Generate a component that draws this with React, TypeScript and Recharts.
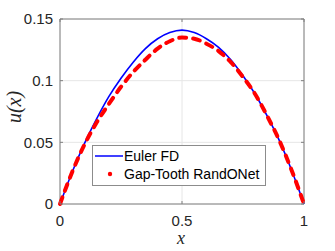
import React from 'react';
import {
  LineChart, Line, XAxis, YAxis, CartesianGrid, ReferenceArea
} from 'recharts';

// grid points along x and the two solutions
const xs = [0, 0.05, 0.1, 0.15, 0.2, 0.25, 0.3, 0.35, 0.4, 0.45, 0.5, 0.55, 0.6, 0.65, 0.7, 0.75, 0.8, 0.85, 0.9, 0.95, 1];
const eulerFD = [0, 0.026, 0.049, 0.069, 0.087, 0.102, 0.115, 0.126, 0.134, 0.139, 0.141, 0.139, 0.134, 0.127, 0.117, 0.104, 0.089, 0.071, 0.051, 0.027, 0];
const gapTooth = [0, 0.026, 0.048, 0.066, 0.081, 0.095, 0.107, 0.117, 0.126, 0.132, 0.135, 0.134, 0.13, 0.124, 0.115, 0.103, 0.089, 0.071, 0.051, 0.027, 0];

const xTicks = [0, 0.5, 1];
const yTicks = [0, 0.05, 0.1, 0.15];

const data = xs.map((x, i) => ({ x, euler: eulerFD[i], gap: gapTooth[i] }));

const W = 335;
const H = 251;
const PL = 60;   // plot left
const PR = 304;  // plot right
const PT = 19;   // plot top
const PB = 204;  // plot bottom

const TEXT = '#262626';
const AXIS = '#808080';
const FONT = '"Liberation Sans", Arial, Helvetica, sans-serif';
const SERIF = '"Liberation Serif", "Times New Roman", serif';

const YTick = (props: any) => {
  const { y, payload } = props;
  return (
    <g>
      <line x1={PL} x2={PL + 3} y1={y} y2={y} stroke={AXIS} />
      <line x1={PR - 3} x2={PR} y1={y} y2={y} stroke={AXIS} />
      <text x={53} y={y + 5.3} textAnchor="end" fontSize={15} fontFamily={FONT} fill={TEXT}>
        {String(payload.value)}
      </text>
    </g>
  );
};

const XTick = (props: any) => {
  const { x, payload } = props;
  return (
    <g>
      <line x1={x} x2={x} y1={PB} y2={PB - 3} stroke={AXIS} />
      <line x1={x} x2={x} y1={PT} y2={PT + 3} stroke={AXIS} />
      <text x={x} y={226} textAnchor="middle" fontSize={15} fontFamily={FONT} fill={TEXT}>
        {String(payload.value)}
      </text>
    </g>
  );
};

const XLabel = () => (
  <text x={181} y={244} textAnchor="middle" fontStyle="italic" fontFamily={SERIF} fontSize={18} fill={TEXT}>
    x
  </text>
);

const YLabel = () => (
  <text
    x={0}
    y={0}
    transform="translate(21, 107) rotate(-90)"
    textAnchor="middle"
    fontStyle="italic"
    fontFamily={SERIF}
    fontSize={20}
    fill={TEXT}
  >
    u(x)
  </text>
);

const LegendBox = () => (
  <div
    style={{
      position: 'absolute',
      left: 92,
      top: 145,
      width: 172,
      height: 39,
      border: '1px solid #8c8c8c',
      background: '#fff',
    }}
  >
    <svg width={172} height={39} style={{ position: 'absolute', left: 0, top: 0 }}>
      <line x1={2} x2={30} y1={10} y2={10} stroke="#0000ff" strokeWidth={1.5} />
      <circle cx={17} cy={28} r={2.2} fill="#ff0000" />
      <text x={31} y={15} fontSize={14} fontFamily={FONT}>Euler FD</text>
      <text x={31} y={33} fontSize={14} fontFamily={FONT}>Gap-Tooth RandONet</text>
    </svg>
  </div>
);

export default function App() {
  return (
    <div style={{ position: 'absolute', left: 0, top: 0, width: W, height: H, background: '#fff' }}>
      <LineChart
        width={W}
        height={H}
        data={data}
        margin={{ top: PT, right: W - PR, left: 0, bottom: 0 }}
      >
        <CartesianGrid stroke="#e6e6e6" strokeWidth={1} />
        <XAxis
          dataKey="x"
          type="number"
          domain={[0, 1]}
          ticks={xTicks}
          height={H - PB}
          axisLine={false}
          tickLine={false}
          tick={<XTick />}
          label={<XLabel />}
        />
        <YAxis
          type="number"
          domain={[0, 0.15]}
          ticks={yTicks}
          width={PL}
          axisLine={false}
          tickLine={false}
          tick={<YTick />}
          label={<YLabel />}
        />
        <ReferenceArea x1={0} x2={1} y1={0} y2={0.15} fill="none" fillOpacity={0} stroke={AXIS} strokeWidth={1} />
        <Line
          type="monotone"
          dataKey="euler"
          name="Euler FD"
          stroke="#0000ff"
          strokeWidth={1.6}
          dot={false}
          isAnimationActive={false}
        />
        <Line
          type="monotone"
          dataKey="gap"
          name="Gap-Tooth RandONet"
          stroke="#ff0000"
          strokeWidth={4}
          strokeDasharray="7 7"
          strokeLinecap="round"
          dot={false}
          isAnimationActive={false}
        />
      </LineChart>
      <LegendBox />
    </div>
  );
}
